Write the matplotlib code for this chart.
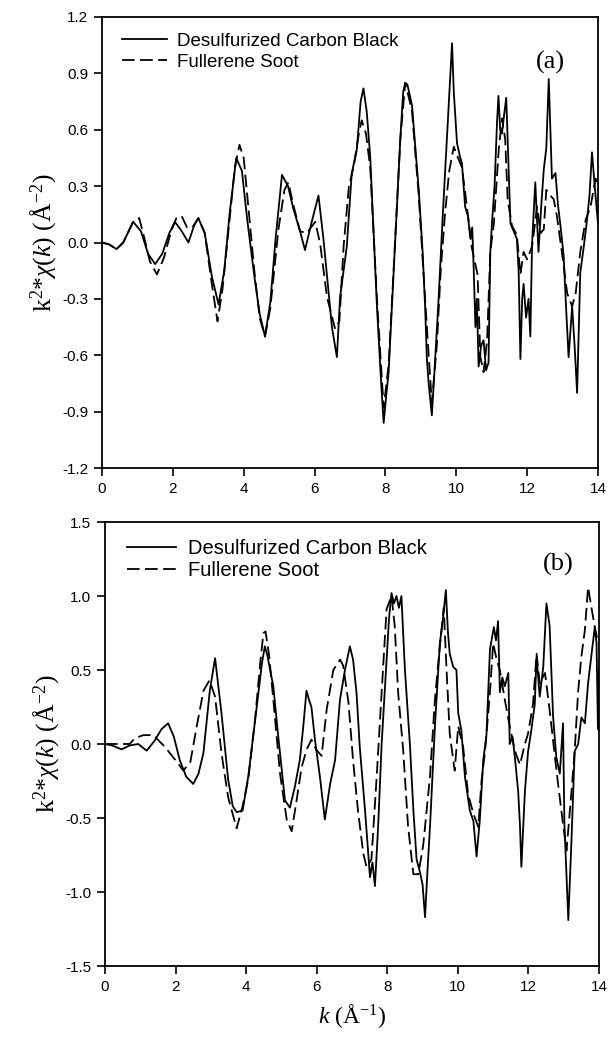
import matplotlib
matplotlib.use("Agg")
import matplotlib.pyplot as plt

# ---------------- Panel (a) data ----------------
k_cb_a = [0, 0.2, 0.41, 0.6, 0.88, 1.1, 1.3, 1.5, 1.7, 1.9,
          2.06, 2.25, 2.44, 2.6, 2.72, 2.9, 3.1, 3.29, 3.45, 3.6,
          3.79, 3.95, 4.1, 4.3, 4.45, 4.6, 4.75, 4.9, 5.08, 5.25,
          5.40, 5.59, 5.73, 5.92, 6.11, 6.25, 6.49, 6.63, 6.72, 6.91,
          7.05, 7.19, 7.30, 7.38, 7.47, 7.57, 7.76, 7.88, 7.95, 8.02,
          8.09, 8.23, 8.42, 8.50, 8.56, 8.62, 8.75, 8.94, 9.05, 9.12,
          9.17, 9.22, 9.31, 9.38, 9.5, 9.62, 9.75, 9.82, 9.88, 9.93,
          10.02, 10.1, 10.16, 10.25, 10.33, 10.40, 10.45, 10.49, 10.54, 10.58,
          10.63, 10.70, 10.77, 10.84, 10.91, 10.96, 11.01, 11.08, 11.15, 11.19,
          11.24, 11.29, 11.35, 11.41, 11.48, 11.53, 11.62, 11.71, 11.76, 11.81,
          11.86, 11.90, 11.97, 12.04, 12.09, 12.14, 12.23, 12.32, 12.40, 12.47,
          12.54, 12.61, 12.70, 12.80, 12.87, 12.94, 13.03, 13.10, 13.17, 13.27,
          13.34, 13.41, 13.50, 13.60, 13.69, 13.76, 13.83, 13.93, 14.0]
v_cb_a = [0, -0.01, -0.035, 0.0, 0.11, 0.06, -0.06, -0.115, -0.06, 0.05,
          0.11, 0.06, 0.0, 0.09, 0.13, 0.05, -0.18, -0.33, -0.15, 0.15,
          0.45, 0.38, 0.12, -0.18, -0.38, -0.50, -0.32, 0.02, 0.36, 0.30,
          0.18, 0.06, -0.04, 0.11, 0.25, 0.02, -0.45, -0.61, -0.29, -0.02,
          0.37, 0.49, 0.75, 0.82, 0.70, 0.46, -0.34, -0.75, -0.96, -0.82,
          -0.69, -0.16, 0.55, 0.80, 0.85, 0.84, 0.73, 0.28, -0.05, -0.34,
          -0.62, -0.75, -0.92, -0.70, -0.30, 0.15, 0.60, 0.85, 1.06, 0.80,
          0.53, 0.46, 0.42, 0.19, 0.14, 0.02, 0.08, -0.13, -0.45, -0.30,
          -0.66, -0.55, -0.52, -0.68, -0.64, -0.05, 0.11, 0.30, 0.64, 0.78,
          0.60, 0.58, 0.68, 0.77, 0.37, 0.10, 0.06, 0.02, -0.15, -0.62,
          -0.30, -0.22, -0.40, -0.30, -0.50, 0.0, 0.32, -0.05, 0.20, 0.39,
          0.50, 0.87, 0.34, 0.37, 0.20, 0.09, -0.07, -0.35, -0.61, -0.34,
          -0.55, -0.80, -0.16, -0.02, 0.12, 0.25, 0.48, 0.25, 0.10]

k_fs_a = [0, 0.2, 0.41, 0.6, 0.88, 1.05, 1.2, 1.35, 1.55, 1.75,
          1.95, 2.1, 2.25, 2.4, 2.55, 2.72, 2.9, 3.1, 3.26, 3.4,
          3.6, 3.75, 3.88, 4.0, 4.15, 4.3, 4.45, 4.6, 4.75, 4.98,
          5.15, 5.26, 5.40, 5.59, 5.78, 6.02, 6.16, 6.35, 6.58, 6.7,
          6.82, 6.97, 7.1, 7.25, 7.33, 7.45, 7.57, 7.76, 7.95, 8.09,
          8.23, 8.42, 8.56, 8.75, 8.94, 9.12, 9.22, 9.31, 9.45, 9.56,
          9.68, 9.80, 9.93, 10.05, 10.16, 10.30, 10.44, 10.6, 10.68, 10.77,
          10.87, 10.96, 11.06, 11.20, 11.29, 11.38, 11.45, 11.57, 11.71, 11.81,
          11.90, 12.0, 12.14, 12.28, 12.38, 12.47, 12.54, 12.61, 12.75, 12.84,
          12.98, 13.13, 13.27, 13.37, 13.50, 13.65, 13.79, 13.93, 14.0]
v_fs_a = [0, -0.01, -0.035, 0.0, 0.11, 0.13, 0.02, -0.10, -0.17, -0.08,
          0.06, 0.13, 0.14, 0.08, 0.08, 0.13, 0.05, -0.22, -0.42, -0.25,
          0.12, 0.40, 0.52, 0.45, 0.15, -0.15, -0.40, -0.50, -0.35, 0.07,
          0.28, 0.32, 0.20, 0.06, 0.05, 0.11, -0.01, -0.29, -0.46, -0.42,
          -0.02, 0.30, 0.40, 0.58, 0.65, 0.58, 0.40, -0.30, -0.88, -0.65,
          -0.15, 0.55, 0.85, 0.70, 0.25, -0.30, -0.60, -0.85, -0.55, -0.15,
          0.15, 0.38, 0.51, 0.45, 0.40, 0.19, -0.03, -0.17, -0.61, -0.69,
          -0.52, -0.05, 0.10, 0.50, 0.66, 0.55, 0.23, 0.09, 0.04, -0.17,
          -0.05, -0.09, -0.02, 0.19, 0.05, 0.07, 0.28, 0.26, 0.23, 0.14,
          -0.05, -0.27, -0.34, -0.27, -0.05, 0.12, 0.19, 0.34, 0.30]

# ---------------- Panel (b) data ----------------
k_cb_b = [0, 0.2, 0.47, 0.7, 0.94, 1.18, 1.4, 1.6, 1.79, 1.95,
          2.12, 2.3, 2.5, 2.65, 2.79, 2.97, 3.12, 3.30, 3.49, 3.62,
          3.73, 3.9, 4.06, 4.30, 4.45, 4.53, 4.6, 4.68, 4.77, 4.91,
          5.10, 5.24, 5.38, 5.52, 5.62, 5.71, 5.78, 5.85, 5.95, 6.09,
          6.23, 6.38, 6.52, 6.66, 6.80, 6.94, 7.03, 7.13, 7.22, 7.37,
          7.51, 7.58, 7.65, 7.74, 7.84, 7.98, 8.05, 8.12, 8.19, 8.26,
          8.33, 8.40, 8.50, 8.64, 8.74, 8.83, 8.92, 9.0, 9.07, 9.14,
          9.21, 9.35, 9.49, 9.58, 9.66, 9.72, 9.77, 9.87, 9.96, 10.01,
          10.1, 10.20, 10.34, 10.44, 10.53, 10.62, 10.72, 10.81, 10.91, 11.02,
          11.08, 11.14, 11.19, 11.26, 11.33, 11.43, 11.47, 11.55, 11.62, 11.71,
          11.76, 11.80, 11.90, 11.99, 12.08, 12.18, 12.23, 12.32, 12.42, 12.51,
          12.60, 12.70, 12.79, 12.89, 12.98, 13.02, 13.13, 13.22, 13.31, 13.41,
          13.50, 13.60, 13.69, 13.78, 13.88, 13.93, 13.97, 14.0]
v_cb_b = [0, -0.01, -0.036, -0.01, 0.0, -0.045, 0.02, 0.10, 0.14, 0.05,
          -0.11, -0.22, -0.27, -0.20, -0.06, 0.36, 0.58, 0.21, -0.24, -0.42,
          -0.46, -0.45, -0.22, 0.25, 0.55, 0.66, 0.60, 0.50, 0.39, 0.05,
          -0.38, -0.43, -0.29, -0.11, 0.12, 0.36, 0.30, 0.25, 0.03, -0.22,
          -0.51, -0.27, -0.11, 0.30, 0.50, 0.66, 0.57, 0.34, -0.02, -0.45,
          -0.90, -0.80, -0.96, -0.56, 0.0, 0.57, 0.85, 1.02, 0.95, 1.0,
          0.92, 1.0, 0.50, 0.0, -0.45, -0.78, -0.86, -0.95, -1.17, -0.85,
          -0.56, 0.12, 0.68, 0.85, 1.04, 0.75, 0.61, 0.52, 0.50, 0.21,
          0.09, -0.22, -0.45, -0.52, -0.76, -0.52, -0.11, 0.06, 0.64, 0.79,
          0.70, 0.83, 0.35, 0.45, 0.39, 0.48, 0.0, 0.05, -0.10, -0.32,
          -0.55, -0.83, -0.32, -0.05, 0.09, 0.27, 0.59, 0.32, 0.52, 0.95,
          0.80, 0.18, -0.09, -0.20, 0.14, -0.54, -1.19, -0.65, -0.05, 0.0,
          0.18, 0.14, 0.41, 0.59, 0.79, 0.68, 0.10, 0.50]

k_fs_b = [0, 0.5, 0.7, 0.85, 1.09, 1.37, 1.70, 2.0, 2.22, 2.42,
          2.6, 2.79, 2.96, 3.12, 3.30, 3.49, 3.73, 3.9, 4.06, 4.25,
          4.40, 4.49, 4.55, 4.65, 4.77, 4.96, 5.15, 5.29, 5.43, 5.57,
          5.71, 5.85, 5.99, 6.14, 6.28, 6.47, 6.66, 6.75, 6.9, 7.03,
          7.17, 7.32, 7.41, 7.55, 7.70, 7.84, 7.98, 8.12, 8.21, 8.31,
          8.45, 8.59, 8.74, 8.88, 9.02, 9.21, 9.35, 9.49, 9.60, 9.68,
          9.77, 9.87, 9.91, 10.01, 10.15, 10.29, 10.44, 10.58, 10.67, 10.77,
          10.91, 11.0, 11.1, 11.19, 11.33, 11.47, 11.62, 11.76, 11.90, 11.99,
          12.13, 12.23, 12.32, 12.47, 12.60, 12.70, 12.84, 12.98, 13.08, 13.22,
          13.31, 13.41, 13.50, 13.60, 13.69, 13.78, 13.88, 13.98]
v_fs_b = [0, 0.0, 0.0, 0.04, 0.06, 0.06, -0.02, -0.11, -0.18, -0.12,
          0.12, 0.36, 0.43, 0.32, -0.06, -0.36, -0.57, -0.42, -0.24, 0.16,
          0.55, 0.75, 0.76, 0.60, 0.30, -0.20, -0.51, -0.59, -0.38, -0.16,
          -0.04, 0.03, -0.04, -0.08, 0.23, 0.50, 0.57, 0.53, 0.28, -0.11,
          -0.45, -0.74, -0.83, -0.78, -0.22, 0.35, 0.91, 1.0, 0.80, 0.34,
          -0.04, -0.56, -0.88, -0.88, -0.68, -0.22, 0.30, 0.66, 0.92, 0.50,
          0.07, -0.11, -0.18, 0.12, -0.02, -0.34, -0.47, -0.56, -0.25, -0.05,
          0.35, 0.68, 0.57, 0.50, 0.30, 0.12, -0.05, -0.14, 0.0, 0.07,
          0.27, 0.61, 0.41, 0.48, 0.23, 0.02, -0.27, -0.54, -0.72, -0.32,
          -0.05, 0.36, 0.59, 0.77, 1.06, 0.93, 0.79, 0.68]

labels = ["Desulfurized Carbon Black", "Fullerene Soot"]
x_ticks = [0, 2, 4, 6, 8, 10, 12, 14]
y_ticks_a = [-1.2, -0.9, -0.6, -0.3, 0.0, 0.3, 0.6, 0.9, 1.2]
y_ticks_b = [-1.5, -1.0, -0.5, 0.0, 0.5, 1.0, 1.5]

plt.rcParams['mathtext.fontset'] = 'custom'
plt.rcParams['mathtext.rm'] = 'Liberation Serif'
plt.rcParams['mathtext.it'] = 'Liberation Serif:italic'
plt.rcParams['font.family'] = ['Liberation Sans', 'DejaVu Sans']

W, H = 609, 1043
fig = plt.figure(figsize=(W / 100, H / 100), dpi=100)

def px_axes(l, r, t, b):
    return [l / W, 1 - b / H, (r - l) / W, (b - t) / H]

ax_a = fig.add_axes(px_axes(102, 598, 17, 468))
ax_b = fig.add_axes(px_axes(105, 599, 522, 966))

ylabel = r'k$^2$*$\chi$($k$) (Å$^{-2}$)'
serif = ['Liberation Serif', 'DejaVu Serif']

def style(ax, yticks, ylim, ylfmt):
    ax.set_xlim(0, 14)
    ax.set_ylim(*ylim)
    ax.set_xticks(x_ticks)
    ax.set_yticks(yticks)
    ax.set_yticklabels([ylfmt.format(t) for t in yticks])
    ax.tick_params(direction='out', length=6, width=1.2, labelsize=11,
                   top=False, right=False, pad=4)
    for s in ax.spines.values():
        s.set_linewidth(1.3)
    ax.set_ylabel(ylabel, fontsize=18.5, family=serif, labelpad=2)

ls_dash = (0, (7, 3))
LW = 1.3

ax_a.plot(k_cb_a, v_cb_a, color='black', lw=LW, label=labels[0])
ax_a.plot(k_fs_a, v_fs_a, color='black', lw=LW, linestyle=ls_dash, label=labels[1])
style(ax_a, y_ticks_a, (-1.2, 1.2), '{:.1f}')
ax_a.legend(loc='upper left', bbox_to_anchor=(0.04, 0.965), frameon=False,
            fontsize=13.5, handlelength=2.4, handletextpad=0.55,
            labelspacing=0.2, borderpad=0, borderaxespad=0)
ax_a.text(0.905, 0.90, '(a)', transform=ax_a.transAxes, fontsize=19,
          family=serif, ha='center', va='center')

ax_b.plot(k_cb_b, v_cb_b, color='black', lw=LW, label=labels[0])
ax_b.plot(k_fs_b, v_fs_b, color='black', lw=LW, linestyle=ls_dash, label=labels[1])
style(ax_b, y_ticks_b, (-1.5, 1.5), '{:.1f}')
ax_b.legend(loc='upper left', bbox_to_anchor=(0.045, 0.962), frameon=False,
            fontsize=14.5, handlelength=2.4, handletextpad=0.6,
            labelspacing=0.15, borderpad=0, borderaxespad=0)
ax_b.text(0.917, 0.905, '(b)', transform=ax_b.transAxes, fontsize=19,
          family=serif, ha='center', va='center')
ax_b.set_xlabel(r'$k$ (Å$^{-1}$)', fontsize=17, family=serif, labelpad=6)

fig.savefig('out.png', dpi=100)
